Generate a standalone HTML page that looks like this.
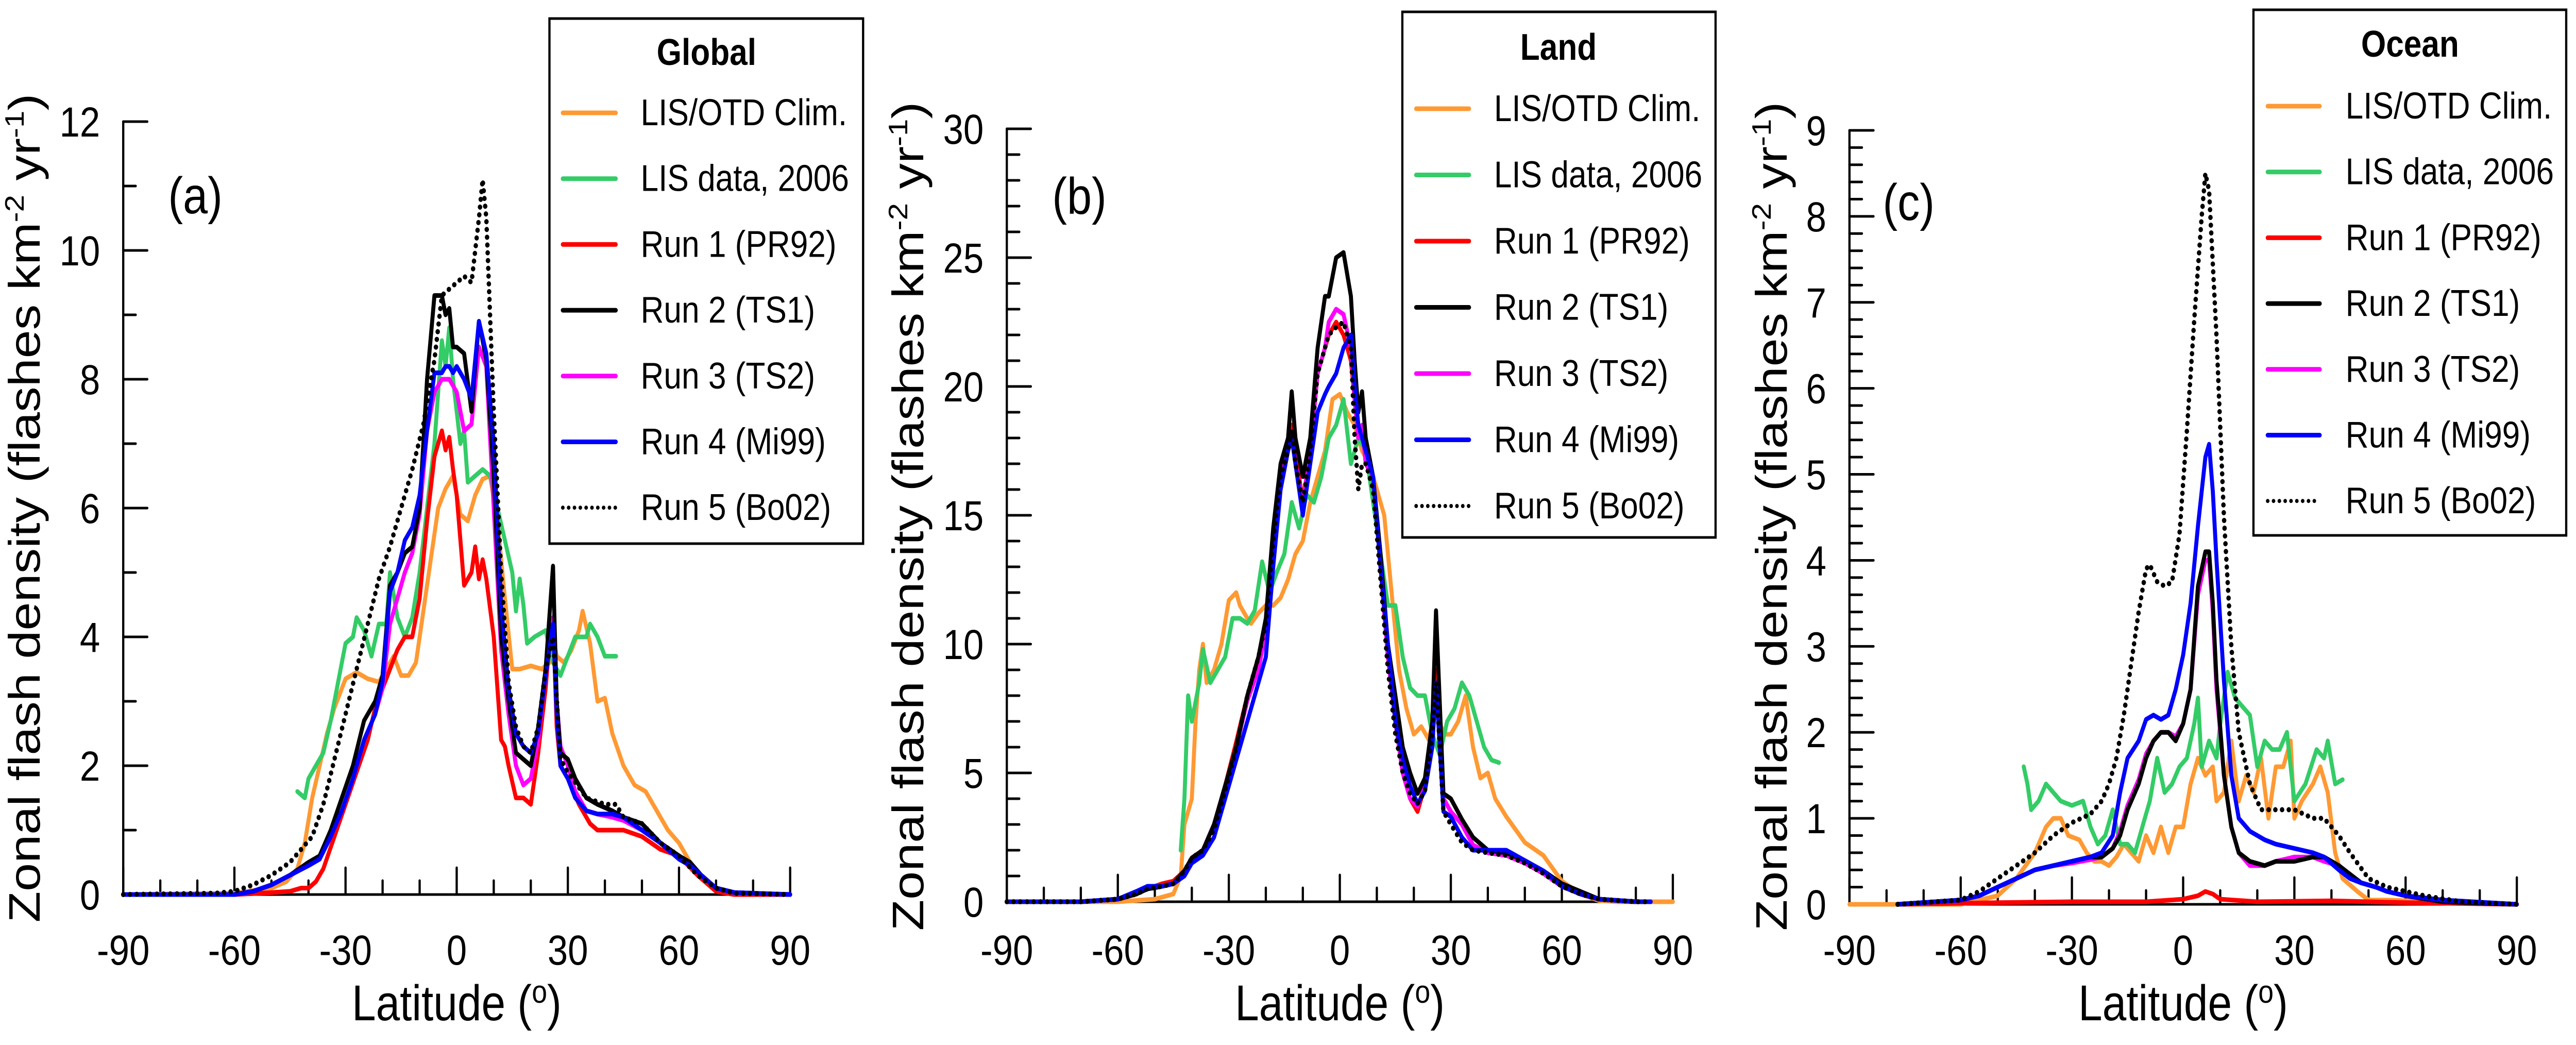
<!DOCTYPE html>
<html><head><meta charset="utf-8"><style>
html,body{margin:0;padding:0;background:#fff;overflow:hidden;width:100%;height:100%;}
svg{display:block;font-family:"Liberation Sans",Arial,sans-serif;width:100vw;height:100vh;}
</style></head><body>
<svg id="fig" viewBox="0 0 5790 2028" preserveAspectRatio="none" xmlns="http://www.w3.org/2000/svg"></svg>
<script>
// ---------- Panel (a) Global ----------
const gLatClim=[-90,-60,-50,-46,-43,-41,-39,-37,-35,-33,-30,-27,-24,-21,-19,-17,-15,-13,-11,-9,-7,-5,-3,-1,1,3,5,7,9,11,13,15,17,20,23,25,26,27,29,31,33,34,36,38,40,42,45,48,51,54,57,60,63,66,70,75,90];
const gValClim=[0,0.02,0.1,0.2,0.4,0.8,1.5,2.0,2.5,2.9,3.35,3.45,3.35,3.3,3.5,3.7,3.4,3.4,3.6,4.4,5.2,6.0,6.3,6.5,5.9,5.8,6.2,6.45,6.5,5.8,4.6,3.5,3.5,3.55,3.5,3.6,4.0,3.7,3.6,3.8,4.1,4.4,3.9,3.0,3.05,2.5,2.0,1.7,1.6,1.3,1.0,0.8,0.5,0.3,0.05,0,0];
const gLatLis=[-43,-41,-40,-38,-36,-34,-32,-30,-28,-27,-25,-23,-21,-19,-18,-16,-14,-12,-10,-8,-6,-4,-3,-2,-1,0,1,2,3,5,7,9,11,13,15,16,17,18,19,21,24,26,28,30,32,35,36,38,40,43];
const gValLis=[1.6,1.5,1.8,2.0,2.2,2.7,3.3,3.9,4.0,4.3,4.1,3.7,4.2,4.2,5.0,4.3,4.0,4.3,5.0,6.0,7.0,8.6,8.2,8.8,8.0,7.5,7.0,7.2,6.4,6.5,6.6,6.5,6.0,5.5,5.0,4.4,4.9,4.5,3.9,4.0,4.1,3.6,3.4,3.7,4.0,4.0,4.2,4.0,3.7,3.7];
const gLatRun1=[-90,-60,-50,-45,-42,-40,-38,-36,-33,-30,-27,-24,-22,-20,-18,-16,-14,-12,-10,-8,-6,-4,-3,-2,-1,0,2,4,5,6,7,8,10,12,13,14,16,18,20,22,24,25,26,27,28,30,33,36,38,40,45,50,55,60,65,70,75,90];
const gValRun1=[0,0,0.03,0.05,0.1,0.1,0.2,0.4,0.9,1.4,1.9,2.4,2.9,3.2,3.5,3.8,4.0,4.0,4.6,5.8,6.8,7.2,6.9,7.1,6.6,6.2,4.8,5.0,5.4,4.9,5.2,4.9,4.0,2.4,2.3,2.0,1.5,1.5,1.4,2.2,3.2,3.9,4.3,2.6,2.0,1.8,1.4,1.1,1.0,1.0,1.0,0.9,0.7,0.6,0.3,0.05,0,0];
const gLatRuns=[-90,-60,-55,-50,-45,-40,-37,-34,-31,-28,-25,-22,-20,-18,-16,-14,-12,-10,-8,-6,-4,-3,-2,-1,0,2,4,6,8,10,12,14,16,18,20,22,24,26,27,28,30,32,35,38,42,45,50,55,60,63,66,70,75,90];
const gValRun2=[0,0,0.05,0.15,0.3,0.5,0.6,1.0,1.5,2.0,2.7,3.0,3.4,4.8,5.0,5.3,5.4,6.0,8.0,9.3,9.3,9.0,9.1,8.5,8.5,8.4,7.5,8.9,8.3,6.5,4.0,3.0,2.2,2.1,2.0,2.6,3.5,5.1,3.0,2.2,2.1,1.8,1.5,1.4,1.3,1.2,1.1,0.8,0.6,0.5,0.3,0.1,0.03,0];
const gValRun3=[0,0,0.05,0.15,0.3,0.45,0.55,0.9,1.3,1.8,2.4,2.8,3.2,4.2,4.6,5.0,5.3,5.9,7.2,7.8,8.0,8.0,8.0,7.9,7.8,7.2,7.3,8.5,8.2,6.0,3.8,2.8,2.0,1.7,1.8,2.4,3.5,4.3,3.0,2.3,2.0,1.6,1.3,1.25,1.2,1.15,1.0,0.8,0.6,0.45,0.3,0.1,0.03,0];
const gValRun4=[0,0,0.05,0.15,0.3,0.45,0.55,0.9,1.3,1.8,2.4,2.8,3.3,4.7,5.0,5.5,5.7,6.2,7.2,8.1,8.1,8.2,8.2,8.1,8.2,8.0,7.7,8.9,8.4,7.0,4.5,3.2,2.5,2.3,2.2,2.5,3.4,4.2,2.8,2.0,1.8,1.5,1.3,1.25,1.25,1.2,1.0,0.8,0.55,0.45,0.3,0.1,0.03,0];
const gLatRun5=[-90,-65,-60,-55,-50,-45,-42,-39,-36,-33,-30,-27,-24,-21,-18,-15,-12,-9,-6,-4,-2,0,2,4,6,7,8,10,12,14,16,18,20,22,24,26,28,30,35,40,43,45,50,55,60,65,70,75,90];
const gValRun5=[0,0.02,0.05,0.15,0.3,0.5,0.7,0.9,1.4,2.1,2.8,3.5,4.2,4.9,5.4,6.0,6.6,7.3,8.3,9.3,9.4,9.5,9.6,9.5,10.5,11.1,10.5,7.5,5.0,3.3,2.6,2.3,2.2,2.6,3.5,4.0,2.1,1.9,1.5,1.4,1.4,1.2,1.1,0.8,0.6,0.3,0.1,0.02,0];

// ---------- Panel (b) Land ----------
const lLatClim=[-90,-60,-50,-45,-43,-42,-40,-39,-38,-37,-36,-34,-32,-30,-28,-27,-25,-24,-22,-20,-18,-16,-14,-12,-10,-8,-6,-4,-2,0,2,4,6,8,10,12,14,16,18,20,22,24,26,28,30,32,34,36,38,40,42,45,50,55,60,65,70,75,90];
const lValClim=[0,0,0.1,0.3,1,3,4,7,9,10,8.5,9,10,11.7,12,11.5,11,10.8,11.2,11.5,11.5,11.8,12.5,13.5,14.0,15.5,16.5,17.5,19.5,19.7,19.0,18.5,17.5,17.0,16.0,15.0,12.0,9.0,7.5,6.5,6.8,6.3,7.5,6.5,6.5,7.0,8.0,6.0,4.8,5.0,4.0,3.3,2.3,1.8,0.8,0.3,0.05,0,0];
const lLatLis=[-43,-42,-41,-40,-38,-37,-35,-33,-31,-29,-27,-25,-23,-21,-19,-17,-15,-13,-11,-9,-7,-5,-3,-1,1,3,5,7,9,11,13,15,17,19,21,23,25,27,29,31,33,35,37,39,41,43];
const lValLis=[2,4,8,7,8.5,9.8,8.5,9,9.5,11,11,10.8,11.3,13.2,12.0,12.8,13.5,15.5,14.5,15.8,15.5,16.5,18,18.5,19.5,17,18,17.5,15.5,13.5,11.5,11.5,9.5,8.3,8.0,8.0,6.5,5.7,7.0,7.5,8.5,8.0,7.0,6.0,5.5,5.4];
const lLatRuns=[-90,-70,-60,-55,-52,-48,-45,-42,-40,-37,-34,-31,-28,-25,-22,-20,-18,-16,-14,-13,-12,-10,-8,-6,-4,-3,-1,1,3,4,5,6,7,9,11,13,15,17,19,21,23,25,26,28,30,33,36,40,45,50,55,60,65,70,80,84];
const lValRun1=[0,0,0.1,0.3,0.5,0.7,0.8,1.2,1.7,2.0,3.0,4.5,6.2,8.0,9.5,10.5,14,16.5,17.5,18.5,17.5,15.5,17.5,20.5,21.5,22,22.5,22,21,19.5,18,18.5,17,16.5,13,9.5,7,5,4,3.5,4.5,7,9,4,3.5,3.0,2.2,1.9,1.8,1.5,1.1,0.6,0.3,0.1,0,0];
const lValRun2=[0,0,0.1,0.3,0.5,0.6,0.7,1.2,1.7,2.0,3.0,4.5,6.0,8.0,9.5,11,14.5,17,18,19.8,18,16.5,18,21.5,23.5,23.5,25,25.2,23.5,21,19,19.8,18,16.5,13.5,10,8,6,5.0,4.2,4.8,7,11.3,4.2,4.0,3.2,2.5,2.0,1.9,1.6,1.2,0.7,0.4,0.1,0,0];
const lValRun3=[0,0,0.1,0.3,0.5,0.6,0.7,1.2,1.7,2.0,3.0,4.5,6.0,7.8,9.0,10.5,14,16.5,17.5,18.2,17,15.5,17.5,20.5,21.5,22.5,23,22.8,21.5,19.5,18,18.5,17,16.5,13,9.5,7,5,4,3.7,4.5,7,8.5,4,3.5,3.0,2.2,1.9,1.8,1.5,1.1,0.6,0.3,0.1,0,0];
const lValRun4=[0,0,0.1,0.4,0.6,0.6,0.7,1.0,1.5,1.8,2.5,4.0,5.5,7.0,8.5,9.5,13,16,17.5,18,17,15,17,19,19.7,20,20.5,21.5,22,20,18.5,18,17.5,16.5,13,10,7,5.5,4.5,3.8,4.3,6,8.5,3.5,3.3,2.5,2.0,2.0,2.0,1.6,1.2,0.6,0.3,0.1,0,0];
const lValRun5=[0,0,0.1,0.3,0.5,0.6,0.7,1.2,1.7,2.0,2.8,4.3,6.0,8.0,9.5,10.8,14,16.5,17.5,18.3,17,15.5,17.5,20.5,21.5,22,22.3,22.5,21.5,18,16,17,17,16,12.5,9,6.5,5,4.2,3.8,4.3,6.5,8.5,3.5,3.0,2.3,2.0,1.9,1.8,1.5,1.1,0.6,0.3,0.1,0,0];

// ---------- Panel (c) Ocean ----------
const oLatClim=[-90,-75,-60,-50,-45,-40,-37,-35,-33,-31,-28,-26,-24,-22,-20,-18,-16,-14,-12,-10,-8,-6,-4,-2,0,2,4,6,8,9,11,13,15,17,19,21,23,25,27,29,30,32,35,37,39,41,43,47,50,55,90];
const oValClim=[0,0,0,0.1,0.3,0.6,0.9,1.0,1.0,0.8,0.75,0.6,0.5,0.5,0.45,0.55,0.7,0.6,0.5,0.8,0.6,0.9,0.6,0.9,0.9,1.4,1.7,1.5,1.6,1.2,1.3,1.9,1.2,1.5,1.3,1.7,1.0,1.6,1.6,1.9,1.0,1.2,1.4,1.6,1.3,0.6,0.3,0.15,0.05,0.05,0];
const oLatLis=[-43,-42,-41,-39,-37,-35,-33,-30,-27,-25,-23,-21,-19,-17,-15,-13,-11,-9,-7,-5,-3,-1,1,3,4,5,7,9,10,12,14,16,18,20,22,24,26,28,30,33,36,38,39,41,43];
const oValLis=[1.6,1.4,1.1,1.2,1.4,1.3,1.2,1.15,1.2,0.9,0.7,0.8,1.1,0.7,0.7,0.6,0.9,1.2,1.7,1.3,1.4,1.6,1.7,2.1,2.4,1.6,1.9,1.7,2.1,2.7,2.4,2.3,2.2,1.6,1.9,1.8,1.8,2.0,1.2,1.4,1.8,1.7,1.9,1.4,1.45];
const oLatRun1=[-77,-50,-30,-10,0,4,6,8,10,20,40,60,90];
const oValRun1=[0,0.02,0.03,0.03,0.06,0.1,0.15,0.12,0.06,0.03,0.04,0.02,0];
const oLatRuns=[-77,-60,-55,-50,-45,-40,-35,-30,-25,-22,-19,-17,-15,-12,-10,-8,-6,-4,-2,0,2,4,6,7,8,9,11,13,15,18,22,25,30,35,38,42,45,48,52,55,60,70,90];
const oValRun2=[0,0.05,0.1,0.2,0.3,0.4,0.45,0.5,0.55,0.55,0.65,0.8,1.1,1.4,1.7,1.9,2.0,2.0,1.9,2.1,2.5,3.7,4.1,4.1,3.5,2.6,1.5,0.9,0.6,0.5,0.45,0.5,0.5,0.55,0.55,0.45,0.35,0.25,0.2,0.15,0.1,0.03,0];
const oValRun3=[0,0.05,0.1,0.2,0.3,0.4,0.45,0.48,0.52,0.55,0.65,0.85,1.15,1.45,1.75,1.9,2.0,2.0,1.95,2.1,2.5,3.6,4.0,4.0,3.4,2.5,1.5,0.9,0.6,0.45,0.45,0.5,0.55,0.55,0.5,0.45,0.35,0.25,0.2,0.15,0.1,0.03,0];
const oValRun4=[0,0.05,0.1,0.2,0.3,0.4,0.45,0.5,0.55,0.6,0.8,1.3,1.7,1.9,2.15,2.2,2.15,2.2,2.5,2.9,3.5,4.4,5.2,5.35,4.8,4.0,2.6,1.5,1.0,0.85,0.75,0.7,0.65,0.6,0.55,0.4,0.3,0.25,0.2,0.15,0.1,0.05,0];
const oLatRun5=[-77,-60,-55,-50,-45,-40,-35,-30,-25,-22,-20,-18,-16,-14,-12,-10,-9,-7,-5,-3,-1,1,3,5,6,7,9,11,13,15,18,21,25,30,35,38,42,45,50,55,60,65,75,90];
const oValRun5=[0,0.05,0.15,0.3,0.45,0.6,0.8,0.95,1.05,1.2,1.4,1.7,2.2,2.8,3.4,3.9,3.95,3.75,3.7,3.75,4.3,5.5,6.8,8.0,8.5,8.3,6.6,4.5,3.0,2.0,1.4,1.1,1.1,1.1,1.0,1.0,0.8,0.6,0.3,0.2,0.15,0.1,0.03,0];

const xTickLabels=[-90,-60,-30,0,30,60,90];
const legendLabels=["LIS/OTD Clim.","LIS data, 2006","Run 1 (PR92)","Run 2 (TS1)","Run 3 (TS2)","Run 4 (Mi99)","Run 5 (Bo02)"];
const seriesColors=["#ff9933","#33cc66","#ff0000","#000000","#ff00ff","#0000ff","#000000"];

const NS="http://www.w3.org/2000/svg";
const svg=document.getElementById('fig');
function mk(tag,attrs,parent){const e=document.createElementNS(NS,tag);for(const k in attrs)e.setAttribute(k,attrs[k]);(parent||svg).appendChild(e);return e;}

const panels=[
 {key:'global',label:'(a)',title:'Global',x0:277,x1:1776,y0:1736,yT:236,ymax:12,major:2,minor:1,
  lab:[439,414],ytx:89,ytc:986,leg:{x:1235,y:36,w:705,h:1019,tc:1588,tb:126,b0:243,dy:127.7,lx0:1265,lx1:1384,tx:1440},
  series:[[gLatClim,gValClim],[gLatLis,gValLis],[gLatRun1,gValRun1],[gLatRuns,gValRun2],[gLatRuns,gValRun3],[gLatRuns,gValRun4],[gLatRun5,gValRun5]],order:[0,1,2,4,3,5,6]},
 {key:'land',label:'(b)',title:'Land',x0:2263,x1:3760,y0:1750,yT:250,ymax:30,major:5,minor:1,
  lab:[2426,415],ytx:2075,ytc:1002,leg:{x:3152,y:23,w:704,h:1020,tc:3503,tb:116,b0:235,dy:128.5,lx0:3183,lx1:3302,tx:3358},
  series:[[lLatClim,lValClim],[lLatLis,lValLis],[lLatRuns,lValRun1],[lLatRuns,lValRun2],[lLatRuns,lValRun3],[lLatRuns,lValRun4],[lLatRuns,lValRun5]],order:[0,1,2,4,3,5,6]},
 {key:'ocean',label:'(c)',title:'Ocean',x0:4157,x1:5657,y0:1755,yT:253,ymax:9,major:1,minor:0.2,
  lab:[4290,427],ytx:4016,ytc:1002,leg:{x:5065,y:19,w:703,h:1020,tc:5417,tb:110,b0:230,dy:127.7,lx0:5097,lx1:5214,tx:5272},
  series:[[oLatClim,oValClim],[oLatLis,oValLis],[oLatRun1,oValRun1],[oLatRuns,oValRun2],[oLatRuns,oValRun3],[oLatRuns,oValRun4],[oLatRun5,oValRun5]],order:[0,1,2,4,3,5,6]}
];

const legendTexts=[];
panels.forEach(p=>{
  const g=mk('g',{});
  
  
  const X=lat=>p.x0+(lat+90)/180*(p.x1-p.x0);
  const Y=v=>p.y0-v/p.ymax*(p.y0-p.yT);
  const ax=mk('g',{stroke:'#000','stroke-width':5,'stroke-linecap':'round',fill:'none'},g);
  
  
  mk('line',{x1:p.x0,y1:p.y0,x2:p.x1,y2:p.y0},ax);
  mk('line',{x1:p.x0,y1:p.y0,x2:p.x0,y2:p.yT},ax);
  for(let lat=-90;lat<=90;lat+=10){const maj=lat%30===0;mk('line',{x1:X(lat),y1:p.y0,x2:X(lat),y2:p.y0-(maj?52:27)},ax);}
  const nMin=Math.round(p.ymax/p.minor);
  for(let i=0;i<=nMin;i++){const v=i*p.minor;const maj=Math.abs(v/p.major-Math.round(v/p.major))<1e-6;mk('line',{x1:p.x0,y1:Y(v),x2:p.x0+(maj?54:28),y2:Y(v)},ax);}
  xTickLabels.forEach(t=>{const e=mk('text',{x:X(t),y:1872,'font-size':82,'text-anchor':'middle'},g);e.textContent=t;
    
    });
  for(let v=0;v<=p.ymax+1e-9;v+=p.major){const e=mk('text',{x:p.x0-52,y:Y(v)+29,'font-size':82,'text-anchor':'end'},g);e.textContent=v;
    
    }
  const xt=mk('text',{x:(p.x0+p.x1)/2,y:1980,'font-size':97,'text-anchor':'middle'},g);
  xt.innerHTML='Latitude (<tspan font-size="62" dy="-34">o</tspan><tspan dy="34">)</tspan>';
  
  
  const yt=mk('text',{transform:`translate(${p.ytx},${p.ytc}) rotate(-90)`,'font-size':99,'text-anchor':'middle'},g);
  yt.innerHTML='Zonal flash density (flashes km<tspan font-size="60" dy="-36">-2</tspan><tspan dy="36"> yr</tspan><tspan font-size="60" dy="-36">-1</tspan><tspan dy="36">)</tspan>';
  
  
  const pl=mk('text',{x:p.lab[0],y:p.lab[1],'font-size':100,'text-anchor':'middle'},g);pl.textContent=p.label;
  
  
  p.order.forEach(i=>{
    const [la,va]=p.series[i];
    const d=la.map((l,k)=>(k?'L':'M')+X(l).toFixed(1)+' '+Y(va[k]).toFixed(1)).join(' ');
    const attrs={d:d,fill:'none',stroke:seriesColors[i],'stroke-width':9,'stroke-linejoin':'round','stroke-linecap':'round'};
    if(i===6){attrs['stroke-dasharray']='0.1 15';attrs['stroke-width']=10;}
    const path=mk('path',attrs,g);
    
    
  });
  const L=p.leg;
  const lg=mk('g',{},g);
  
  
  mk('rect',{x:L.x,y:L.y,width:L.w,height:L.h,fill:'#fff',stroke:'#000','stroke-width':5},lg);
  const tt=mk('text',{x:L.tc,y:L.tb,'font-size':72,'font-weight':'bold','text-anchor':'middle'},lg);tt.textContent=p.title;
  
  
  legendLabels.forEach((lab,i)=>{
    const by=L.b0+i*L.dy;
    const la={x1:L.lx0,y1:by-24,x2:L.lx1,y2:by-24,stroke:seriesColors[i],'stroke-width':9,'stroke-linecap':'round'};
    if(i===6){la['stroke-dasharray']='0.1 13';la['stroke-width']=8;}
    const ln=mk('line',la,lg);
    
    
    const t=mk('text',{x:L.tx,y:by,'font-size':72},lg);t.textContent=lab;
    
    
    legendTexts.push(t);
  });
});
// widen legend text to match reference width ("LIS data, 2006" ≈ 467 units)
try{
  const ref=legendTexts[1].getComputedTextLength();
  if(ref>0){const k=467/ref;if(k>1.02)legendTexts.forEach(t=>{const w=t.getComputedTextLength();t.setAttribute('textLength',(w*k).toFixed(1));t.setAttribute('lengthAdjust','spacingAndGlyphs');});}
}catch(e){}
</script>
</body></html>
